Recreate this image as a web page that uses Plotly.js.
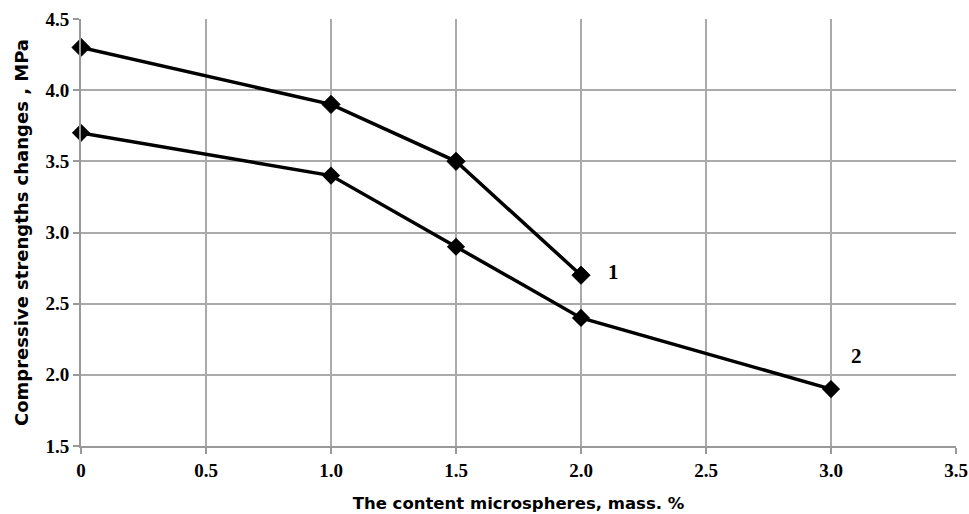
<!DOCTYPE html>
<html><head><meta charset="utf-8">
<script src="https://cdn.plot.ly/plotly-3.0.1.min.js"></script>
<style>body{margin:0;background:#fff}#c{width:969px;height:514px}</style>
</head><body><div id="c"></div>
<script>
const x1 = [0, 1.0, 1.5, 2.0];
const y1 = [4.3, 3.9, 3.5, 2.7];
const x2 = [0, 1.0, 1.5, 2.0, 3.0];
const y2 = [3.7, 3.4, 2.9, 2.4, 1.9];
const xTicks = [0, 0.5, 1.0, 1.5, 2.0, 2.5, 3.0, 3.5];
const xTickText = ['0', '0.5', '1.0', '1.5', '2.0', '2.5', '3.0', '3.5'];
const yTicks = [1.5, 2.0, 2.5, 3.0, 3.5, 4.0, 4.5];
const yTickText = ['1.5', '2.0', '2.5', '3.0', '3.5', '4.0', '4.5'];
const labels = ['1', '2'];
const labelX = [2.13, 3.1];
const labelY = [2.72, 2.13];

function tf() { return {family: 'Liberation Serif', size: 19, color: '#000', weight: 700}; }
const traces = [
  {x: x1, y: y1, mode: 'lines+markers', cliponaxis: false, line: {color: '#000', width: 3.5},
   marker: {symbol: ['diamond','diamond','diamond','diamond-dot'], size: 14, color: '#000', line: {color: '#000', width: 1}}},
  {x: x2, y: y2, mode: 'lines+markers', cliponaxis: false, line: {color: '#000', width: 3.5},
   marker: {symbol: 'diamond', size: 14, color: '#000'}}
];
const layout = {
  width: 969, height: 514,
  margin: {l: 81, r: 13, t: 19, b: 68},
  showlegend: false,
  paper_bgcolor: '#fff', plot_bgcolor: '#fff',
  xaxis: {range: [0, 3.5], tickmode: 'array', tickvals: xTicks, ticktext: xTickText, showgrid: true, gridcolor: '#aaa', gridwidth: 1.5,
    showline: true, linecolor: '#999', linewidth: 2, ticks: 'outside', ticklen: 6, tickcolor: '#999', tickwidth: 2,
    zeroline: false, tickfont: tf(), automargin: false,
    title: {text: 'The content microspheres, mass. %', font: {family: 'DejaVu Sans', size: 16.5, color: '#000', weight: 700}, standoff: 18}},
  yaxis: {range: [1.5, 4.5], tickmode: 'array', tickvals: yTicks, ticktext: yTickText, showgrid: true, gridcolor: '#aaa', gridwidth: 1.5,
    showline: true, linecolor: '#999', linewidth: 2, ticks: 'outside', ticklen: 6, tickcolor: '#999', tickwidth: 2,
    zeroline: false, tickfont: tf(), automargin: false,
    title: {text: 'Compressive strengths changes , MPa', font: {family: 'DejaVu Sans', size: 18, color: '#000', weight: 700}, standoff: 12}},
  annotations: labels.map((t, i) => ({x: labelX[i], y: labelY[i], text: t, showarrow: false,
    font: {family: 'Liberation Serif', size: 21, color: '#000', weight: 700}}))
};
Plotly.newPlot('c', traces, layout, {displayModeBar: false});
</script></body></html>
